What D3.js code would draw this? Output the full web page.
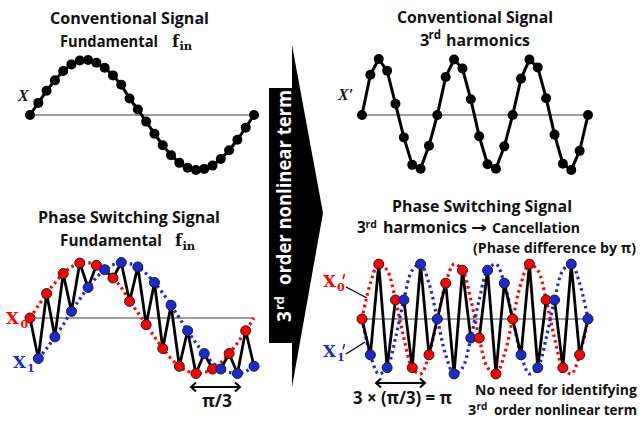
<!DOCTYPE html>
<html>
<head>
<meta charset="utf-8">
<script src="https://cdn.jsdelivr.net/npm/d3@7/dist/d3.min.js"></script>
<style>
  html, body { margin: 0; padding: 0; background: #fff; }
  svg { display: block; }
</style>
</head>
<body>
<svg id="chart" width="644" height="421"></svg>
<script>
// ---- data: 28 samples over one period of the input ----
const sampleIndex = d3.range(28);

// conventional signal, fundamental
const fundamental = [0, 0.22, 0.44, 0.63, 0.80, 0.92, 0.99, 1.00, 0.95, 0.86, 0.72, 0.55, 0.30, 0.10,
  -0.12, -0.34, -0.55, -0.73, -0.87, -0.96, -1.00, -0.98, -0.92, -0.80, -0.64, -0.45, -0.23, 0];

// phase-switched copy (X1), lagging by pi/3
const fundamentalShifted = [-0.87, -0.73, -0.55, -0.34, -0.12, 0.12, 0.34, 0.55, 0.73, 0.87, 0.96, 1.00, 0.98, 0.92,
  0.80, 0.64, 0.45, 0.23, 0, -0.23, -0.45, -0.64, -0.80, -0.92, -0.98, -1.00, -0.96, -0.87];

// conventional signal, 3rd harmonic
const harmonic = [0, 0.72, 1.00, 0.79, 0.20, -0.40, -0.89, -0.96, -0.55, 0, 0.68, 0.99, 0.83, 0.28,
  -0.38, -0.88, -0.96, -0.56, 0, 0.65, 0.99, 0.85, 0.30, -0.35, -0.87, -0.98, -0.64, 0];

// phase switching signal, 3rd harmonic of X0 and of X1
const harmonicX0 = [0, 0.64, 0.98, 0.87, 0.34, -0.34, -0.87, -0.98, -0.64, 0, 0.64, 0.98, 0.87, 0.34,
  -0.34, -0.87, -0.98, -0.64, 0, 0.64, 0.98, 0.87, 0.34, -0.34, -0.87, -0.98, -0.64, 0];
const harmonicX1 = [0, -0.64, -0.98, -0.87, -0.34, 0.34, 0.87, 0.98, 0.64, 0, -0.64, -0.98, -0.87, -0.34,
  0.34, 0.87, 0.98, 0.64, 0, -0.64, -0.98, -0.87, -0.34, 0.34, 0.87, 0.98, 0.64, 0];

// ---- styling ----
const RED = "#ff0000", BLUE = "#1a2ad0";
const SANS = "'Open Sans', 'Noto Sans', sans-serif";
const SERIF = "'DejaVu Serif', 'Liberation Serif', serif";

const svg = d3.select("#chart");

function makeScales(x0, x1, base, amp) {
  return {
    x: d3.scaleLinear().domain([0, 27]).range([x0, x1]),
    y: d3.scaleLinear().domain([-1, 1]).range([base + amp, base - amp])
  };
}

// text helper: when a target width is given, the font is shrunk a little if the
// natural run is much wider, and textLength takes care of the rest
function text(g, o) {
  let size = o.size || 16.5;
  const t = g.append("text")
    .attr("x", o.x).attr("y", o.y)
    .attr("font-family", o.family || SANS)
    .attr("font-weight", o.weight || "bold")
    .attr("font-style", o.style || "normal")
    .attr("font-size", size)
    .attr("fill", o.fill || "#111")
    .attr("text-anchor", o.anchor || "start")
    .text(o.text);
  if (o.width) {
    const natural = t.node().getComputedTextLength();
    if (natural > o.width * 1.04) {
      size = size * o.width * 1.04 / natural;
      t.attr("font-size", size);
    }
    t.attr("textLength", o.width).attr("lengthAdjust", "spacingAndGlyphs");
  }
  if (o.transform) t.attr("transform", o.transform);
  return t;
}

function baseline(g, s) {
  g.append("line")
    .attr("x1", s.x(0)).attr("x2", s.x(27))
    .attr("y1", s.y(0)).attr("y2", s.y(0))
    .attr("stroke", "#3a3a3a").attr("stroke-width", 1.2);
}

function conventional(g, s, values) {
  baseline(g, s);
  g.append("path")
    .datum(values)
    .attr("fill", "none").attr("stroke", "#000").attr("stroke-width", 3)
    .attr("stroke-linejoin", "round")
    .attr("d", d3.line().x((d, i) => s.x(i)).y(d => s.y(d)));
  g.selectAll("circle.pt").data(values).join("circle")
    .attr("class", "pt")
    .attr("cx", (d, i) => s.x(i)).attr("cy", d => s.y(d)).attr("r", 5)
    .attr("fill", "#000");
}

function switching(g, s, red, blue, blueStart) {
  baseline(g, s);
  const smooth = d3.line().curve(d3.curveCatmullRom)
    .x(d => s.x(d[0])).y(d => s.y(d[1]));
  const dotted = (vals, start, color) => g.append("path")
    .datum(vals.map((v, i) => [i, v]).slice(start))
    .attr("fill", "none").attr("stroke", color).attr("stroke-width", 3.2)
    .attr("stroke-dasharray", "2.6,3.4")
    .attr("d", smooth);
  dotted(red, 0, RED);
  dotted(blue, blueStart, BLUE);

  // alternating samples: even -> X0, odd -> X1
  const mixed = sampleIndex.map(i => ({ i, v: i % 2 === 0 ? red[i] : blue[i], c: i % 2 === 0 ? RED : BLUE }));
  g.append("path")
    .datum(mixed)
    .attr("fill", "none").attr("stroke", "#000").attr("stroke-width", 2.8)
    .attr("stroke-linejoin", "round")
    .attr("d", d3.line().x(d => s.x(d.i)).y(d => s.y(d.v)));
  g.selectAll("circle.pt").data(mixed).join("circle")
    .attr("class", "pt")
    .attr("cx", d => s.x(d.i)).attr("cy", d => s.y(d.v)).attr("r", 5)
    .attr("fill", d => d.c).attr("stroke", "#1a1a1a").attr("stroke-width", 1);
}

function doubleArrow(g, x1, x2, y) {
  g.append("line").attr("x1", x1 + 1).attr("x2", x2 - 1).attr("y1", y).attr("y2", y)
    .attr("stroke", "#000").attr("stroke-width", 2);
  g.append("path")
    .attr("d", `M${x1 + 6},${y - 4.5} L${x1 + 1},${y} L${x1 + 6},${y + 4.5} M${x2 - 6},${y - 4.5} L${x2 - 1},${y} L${x2 - 6},${y + 4.5}`)
    .attr("fill", "none").attr("stroke", "#000").attr("stroke-width", 2)
    .attr("stroke-linejoin", "miter");
}

function fin(g, x, y) {
  text(g, { x: x, y: y, text: "f", family: SERIF, size: 16 });
  text(g, { x: x + 7.5, y: y + 3.5, text: "in", family: SERIF, size: 11.5 });
}

function primedLabel(g, x, y, sub, color) {
  text(g, { x: x, y: y, text: "X", family: SERIF, size: 16.5, fill: color });
  text(g, { x: x + 14, y: y + 4, text: sub, family: SERIF, size: 11, fill: color });
  g.append("line")
    .attr("x1", x + 21.5).attr("y1", y - 13).attr("x2", x + 20).attr("y2", y - 8)
    .attr("stroke", color).attr("stroke-width", 1.6);
}

// ---- top left: conventional fundamental ----
const tl = svg.append("g");
text(tl, { x: 50, y: 23.5, text: "Conventional Signal", width: 159 });
text(tl, { x: 60, y: 46.5, text: "Fundamental", width: 98 });
fin(tl, 172, 46.5);
text(tl, { x: 18, y: 100.5, text: "X", family: "'Liberation Serif', serif", style: "italic", weight: "bold", size: 16 });
conventional(tl, makeScales(30, 254, 115, 55), fundamental);

// ---- top right: conventional 3rd harmonic ----
const tr = svg.append("g");
text(tr, { x: 397, y: 23, text: "Conventional Signal", width: 156 });
text(tr, { x: 420, y: 45.5, text: "3" });
text(tr, { x: 428.5, y: 39, text: "rd", size: 11.5 });
text(tr, { x: 446, y: 45.5, text: "harmonics", width: 84 });
text(tr, { x: 338, y: 100, text: "X′", family: "'Liberation Serif', serif", style: "italic", weight: "bold", size: 16 });
conventional(tr, makeScales(362, 588, 115, 56), harmonic);

// ---- bottom left: phase switching fundamental ----
const bl = svg.append("g");
text(bl, { x: 38, y: 223, text: "Phase Switching Signal", width: 182 });
text(bl, { x: 60, y: 246, text: "Fundamental", width: 102 });
fin(bl, 175, 246);
switching(bl, makeScales(30, 254, 318, 55.5), fundamental, fundamentalShifted, 1);
text(bl, { x: 6, y: 324, text: "X", family: SERIF, size: 16.5, fill: RED });
text(bl, { x: 20.5, y: 327.5, text: "0", family: SERIF, size: 11, fill: RED });
text(bl, { x: 13, y: 368, text: "X", family: SERIF, size: 16.5, fill: BLUE });
text(bl, { x: 27, y: 372, text: "1", family: SERIF, size: 11, fill: BLUE });
doubleArrow(bl, 190, 241, 387);
text(bl, { x: 202, y: 407, text: "π/3", size: 17, width: 30 });

// ---- bottom right: phase switching 3rd harmonic ----
const br = svg.append("g");
text(br, { x: 392, y: 212, text: "Phase Switching Signal", size: 15.5, width: 180 });
text(br, { x: 357, y: 233, text: "3", size: 15.5 });
text(br, { x: 365.5, y: 227.5, text: "rd", size: 10.5 });
text(br, { x: 383, y: 233, text: "harmonics", size: 15.5, width: 84 });
text(br, { x: 471, y: 233, text: "→", family: "'DejaVu Sans', sans-serif", size: 16, width: 16 });
text(br, { x: 492, y: 233, text: "Cancellation", size: 15.5, width: 88 });
text(br, { x: 473, y: 253, text: "(Phase difference by π)", size: 14.5, width: 163 });
switching(br, makeScales(362, 588, 319, 56), harmonicX0, harmonicX1, 0);
primedLabel(br, 323, 287, "0", RED);
primedLabel(br, 323, 357, "1", BLUE);
br.append("line").attr("x1", 346).attr("y1", 287).attr("x2", 367).attr("y2", 298)
  .attr("stroke", "#000").attr("stroke-width", 1.3);
br.append("line").attr("x1", 346).attr("y1", 354).attr("x2", 365).attr("y2", 342)
  .attr("stroke", "#000").attr("stroke-width", 1.3);
doubleArrow(br, 375, 426, 383);
text(br, { x: 353, y: 404, text: "3 × (π/3) = π", size: 17, width: 99 });
text(br, { x: 475, y: 394.5, text: "No need for identifying", size: 14.5, width: 162 });
text(br, { x: 468, y: 415, text: "3", size: 14.5 });
text(br, { x: 476.5, y: 409.5, text: "rd", size: 10 });
text(br, { x: 494, y: 415, text: "order nonlinear term", size: 14.5, width: 143 });

// ---- centre: "3rd order nonlinear term" arrow ----
const arrowPts = [[269, 88], [292, 88], [292, 45], [323, 213], [292, 387], [292, 343], [269, 343]];
svg.append("path")
  .attr("d", d3.line()(arrowPts) + "Z")
  .attr("fill", "#000");
const rot = svg.append("g").attr("transform", "translate(291,206) rotate(-90)");
text(rot, { x: -116, y: 0, text: "3", size: 19, fill: "#fff" });
text(rot, { x: -104, y: -7, text: "rd", size: 12.5, fill: "#fff" });
text(rot, { x: -79, y: 0, text: "order nonlinear term", size: 19, fill: "#fff", width: 195 });
</script>
</body>
</html>
